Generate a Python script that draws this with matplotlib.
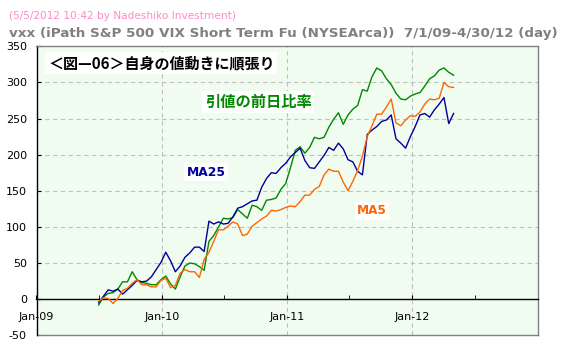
import matplotlib
matplotlib.use("Agg")
import matplotlib.pyplot as plt
import matplotlib.dates as mdates
from matplotlib.lines import Line2D
import pandas as pd

plt.rcParams["axes.unicode_minus"] = False

# ---------------- data ----------------
start_date = "2009-07-01"
end_date = "2012-04-30"

close_change = [-8, 3, 8, 9, 14, 24, 24, 38, 27, 23, 22, 20, 20, 27, 32, 21, 14, 31, 46, 50,
                49, 45, 40, 80, 88, 100, 112, 111, 113, 124, 118, 112, 130, 128, 123, 137, 138, 140, 152, 160,
                182, 206, 211, 202, 210, 224, 222, 224, 238, 249, 258, 242, 255, 263, 268, 290, 288, 308, 320, 316,
                305, 297, 285, 277, 276, 281, 284, 286, 295, 305, 309, 317, 320, 314, 310]
ma25 = [-5, 4, 13, 11, 14, 7, 13, 19, 26, 24, 25, 31, 41, 51, 65, 53, 38, 46, 58, 64,
        72, 72, 66, 108, 104, 107, 104, 105, 114, 126, 128, 132, 136, 137, 155, 167, 175, 174, 182, 188,
        197, 203, 209, 192, 182, 181, 190, 199, 210, 206, 216, 208, 193, 190, 177, 172, 228, 234, 239, 246,
        248, 255, 222, 216, 209, 225, 239, 255, 257, 252, 262, 270, 279, 243, 257]
ma5 = [-3, 2, 1, -6, 1, 12, 15, 22, 27, 20, 20, 17, 17, 26, 29, 16, 19, 36, 41, 38,
       38, 30, 55, 65, 80, 96, 96, 101, 107, 104, 88, 90, 101, 106, 111, 115, 123, 122, 124, 127,
       129, 128, 135, 144, 144, 152, 156, 172, 180, 177, 177, 162, 150, 163, 178, 198, 225, 240, 256, 256,
       266, 277, 244, 240, 248, 254, 253, 259, 270, 277, 276, 278, 300, 294, 293]

dates = pd.date_range(start_date, end_date, periods=len(ma25))

title = "vxx (iPath S&P 500 VIX Short Term Fu (NYSEArca))  7/1/09-4/30/12 (day)"
subtitle = "(5/5/2012 10:42 by Nadeshiko Investment)"
note = "＜図—06＞自身の値動きに順張り"
label_close = "引値の前日比率"
label_ma25 = "MA25"
label_ma5 = "MA5"
y_ticks = list(range(-50, 351, 50))
x_tick_years = [2009, 2010, 2011, 2012]

# ---------------- figure ----------------
W, H = 566, 349
fig = plt.figure(figsize=(W / 100, H / 100), dpi=100, facecolor="white")
L, R, T, B = 36.5, 538.0, 46.3, 335.3
ax = fig.add_axes([L / W, (H - B) / H, (R - L) / W, (B - T) / H])
ax.set_facecolor("#f0fcf0")

c_green = "#008800"
c_blue = "#000099"
c_orange = "#ff6600"

ax.plot(dates, close_change, color=c_green, lw=1.0, zorder=3)
ax.plot(dates, ma25, color=c_blue, lw=1.0, zorder=3)
ax.plot(dates, ma5, color=c_orange, lw=1.0, zorder=3)

ax.set_xlim(pd.Timestamp("2009-01-01"), pd.Timestamp("2013-01-01"))
ax.set_ylim(-50, 350)
ax.set_yticks(y_ticks)

major = [mdates.date2num(pd.Timestamp(f"{y}-01-01")) for y in x_tick_years]
minor = [mdates.date2num(pd.Timestamp(f"{y}-07-01")) for y in x_tick_years]
ax.set_xticks(major)
ax.set_xticks(minor, minor=True)
ax.set_xticklabels([f"Jan-{y % 100:02d}" for y in x_tick_years])

# grid
for v in y_ticks:
    if v not in (-50, 0, 350):
        ax.axhline(v, color="#c0c0c0", lw=0.8, ls=(0, (4, 3)), zorder=1)
for yr in x_tick_years[1:]:
    ax.axvline(pd.Timestamp(f"{yr}-01-01"), color="#c0c0c0", lw=0.8, ls=(0, (4, 3)), zorder=1)

# spines
ax.spines["bottom"].set_position(("data", 0))
ax.spines["bottom"].set_color("black")
ax.spines["bottom"].set_linewidth(1.0)
ax.spines["left"].set_color("black")
ax.spines["left"].set_linewidth(1.0)
for s in ("top", "right"):
    ax.spines[s].set_color("#808080")
    ax.spines[s].set_linewidth(1.0)
ax.add_line(Line2D([0, 1], [0, 0], transform=ax.transAxes, color="#808080", lw=1.0,
                   clip_on=False, zorder=2.4))

ax.tick_params(axis="x", which="major", direction="in", length=3, pad=9, labelsize=8, colors="black")
ax.tick_params(axis="x", which="minor", direction="in", length=3, colors="black")
ax.tick_params(axis="y", direction="in", length=3, pad=7, labelsize=8, colors="black")

# ---------------- texts ----------------
jp = ["Noto Sans CJK JP", "DejaVu Sans"]
renderer = fig.canvas.get_renderer()


def fit(t, target_px):
    ext = t.get_window_extent(renderer=renderer)
    t.set_fontsize(t.get_fontsize() * target_px / ext.width)


t1 = fig.text(9 / W, 1 - 16 / H, subtitle, color="#ff88cc", fontsize=8, va="center", ha="left")
fit(t1, 225)
t2 = fig.text(9 / W, 1 - 34 / H, title, color="#808080", fontsize=10, fontweight="bold",
              va="center", ha="left")
fit(t2, 549)


def axfrac(x, y):
    return ((x - L) / (R - L), (B - y) / (B - T))


box = dict(facecolor="white", edgecolor="none", pad=2)
a1 = ax.text(*axfrac(48, 63), note, transform=ax.transAxes, family=jp, fontsize=11,
             fontweight="bold", color="black", va="center", ha="left", bbox=box, zorder=5)
fit(a1, 227)
a2 = ax.text(*axfrac(258, 102), label_close, transform=ax.transAxes, family=jp, fontsize=11,
             fontweight="bold", color=c_green, va="center", ha="center", bbox=box, zorder=5)
fit(a2, 107)
a3 = ax.text(*axfrac(206, 172), label_ma25, transform=ax.transAxes, fontsize=10,
             fontweight="bold", color=c_blue, va="center", ha="center", bbox=box, zorder=5)
fit(a3, 39)
a4 = ax.text(*axfrac(372, 211), label_ma5, transform=ax.transAxes, fontsize=10,
             fontweight="bold", color=c_orange, va="center", ha="center", bbox=box, zorder=5)
fit(a4, 30)

fig.savefig("out.png", dpi=100, facecolor="white")
